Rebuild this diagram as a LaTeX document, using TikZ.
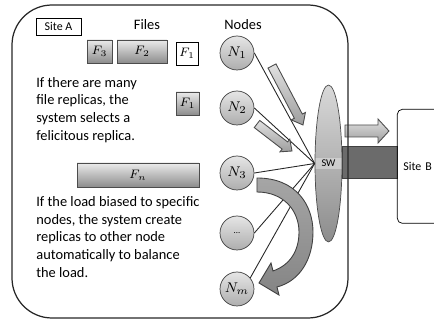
\documentclass[tikz,border=0pt]{standalone}
\usepackage[no-math]{fontspec}
\setmainfont{Carlito}
\usetikzlibrary{
  calc, % For the block arrows
  shapes.geometric % Ellipse for the switch
}

% Blockpfeil: #1 Optionen, #2 Anfang, #3 Ende, #4 halbe Schaftbreite,
% #5 halbe Spitzenbreite, #6 Spitzenlaenge
\newcommand\blockarrow[6][]{%
  \coordinate (ba-a) at #2;
  \coordinate (ba-e) at #3;
  \coordinate (ba-b) at ($(ba-e)!#6!(ba-a)$);
  \draw[bigarrow, #1] ($(ba-a)!#4!90:(ba-e)$) -- ($(ba-b)!#4!90:(ba-e)$)
    -- ($(ba-b)!#5!90:(ba-e)$) -- (ba-e) -- ($(ba-b)!#5!-90:(ba-e)$)
    -- ($(ba-b)!#4!-90:(ba-e)$) -- ($(ba-a)!#4!-90:(ba-e)$) -- cycle;
}

\begin{document}
\begin{tikzpicture}[
      x=0.02cm, y=-0.02cm, % Pixel grid, y pointing down
      txt/.style={font=\fontsize{8.2}{10.1}\selectfont, inner sep=0pt, align=left, anchor=west},
      head/.style={font=\fontsize{8.2}{10}\selectfont, inner sep=0pt},
      small/.style={font=\fontsize{6.8}{8}\selectfont},
      file/.style={draw=black!70, top color=black!8, bottom color=black!45, inner sep=0pt,
        minimum height=0.46cm, font=\fontsize{7}{8}\selectfont},
      knoten/.style={circle, draw=black!75, top color=black!10, bottom color=black!32,
        minimum size=0.68cm, inner sep=0pt, font=\fontsize{8}{9}\selectfont},
      link/.style={black!85, line width=0.5pt}, % Lines node -> switch
      bigarrow/.style={draw=black!70, top color=black!12, bottom color=black!38, line width=0.5pt},
    ]

    \clip (0,0) rectangle (434,324);

    % Verbindung zu Site B
    \draw[black!75, fill=black!58] (342,146) rectangle (397,178);
    \node[draw, rounded corners=2.8pt, anchor=north west, minimum height=2.28cm,
      text width=0.96cm, inner xsep=0.12cm, align=left, small] (siteb) at (397,109) {Site B};
    \blockarrow{(345,131)}{(389,131)}{0.12cm}{0.24cm}{0.22cm}

    % Site A
    \draw[black!85, line width=0.7pt, rounded corners=0.8cm] (12,5) rectangle (348,318);
    \node[draw, small, minimum width=0.9cm, minimum height=0.34cm, inner sep=0pt] (sitea) at (58.5,26.5) {Site A};
    \node[head] (files) at (147,25) {Files};
    \node[head] (nodes) at (243,25) {Nodes};

    % Dateien
    \node[file, minimum width=0.5cm] (f3) at (99.5,51.5) {$F_3$};
    \node[file, minimum width=1cm] (f2) at (142,51.5) {$F_2$};
    \node[draw, fill=white, inner sep=0pt, minimum width=0.44cm, minimum height=0.46cm,
      font=\fontsize{7}{8}\selectfont] (f1) at (187,53.5) {$F_1$};
    \node[file, minimum width=0.46cm] (f1r) at (187.5,103.5) {$F_1$};
    \node[file, minimum width=2.44cm, minimum height=0.48cm] (fn) at (138,175) {$F_n$};

    % Texte
    \node[txt] (text1) at (36,110) {If there are many\\file replicas, the\\system selects a\\felicitous replica.};
    \node[txt] (text2) at (36,237) {If the load biased to specific\\nodes, the system create\\replicas to other node\\automatically to balance\\the load.};

    % Knoten
    \node[knoten] (n1) at (237,53) {$N_1$};
    \node[knoten] (n2) at (237,108) {$N_2$};
    \node[knoten] (n3) at (237,173) {$N_3$};
    \node[knoten, font=\fontsize{5}{6}\selectfont] (ndots) at (237,233) {...};
    \node[knoten] (nm) at (237,289) {$N_m$};

    % Switch
    \node[ellipse, draw=black!70, top color=black!15, bottom color=black!45, inner sep=0pt,
      minimum width=0.54cm, minimum height=3.14cm, font=\fontsize{5.9}{7}\selectfont,
      path picture={\fill[white, opacity=0.35]
        ($(path picture bounding box.west)+(0,3.2pt)$) rectangle
        ($(path picture bounding box.east)+(0,-3.2pt)$);}] (sw) at (328.5,163.5) {SW};

    \foreach \n in {n1, n2, n3, ndots}
    \draw[link] (\n.east) -- (sw.west);
    \draw[link] (nm.40) -- (sw.west);

    % Pfeile
    \blockarrow{(272,66)}{(303,125)}{0.09cm}{0.16cm}{0.2cm}
    \blockarrow{(257,124)}{(292,151)}{0.09cm}{0.16cm}{0.18cm}

    % Replikation N3 -> Nm
    \draw[draw=black!75, top color=black!35, bottom color=black!48, line width=0.5pt]
      (257,178) .. controls (296,178) and (313,205) .. (313,232)
      .. controls (313,259) and (300,281) .. (277,287)
      -- (279,295) -- (259,283) -- (271,263) -- (273,271)
      .. controls (290,265) and (299,251) .. (299,232)
      .. controls (299,211) and (284,192) .. (257,192) -- cycle;
  \end{tikzpicture}
\end{document}
